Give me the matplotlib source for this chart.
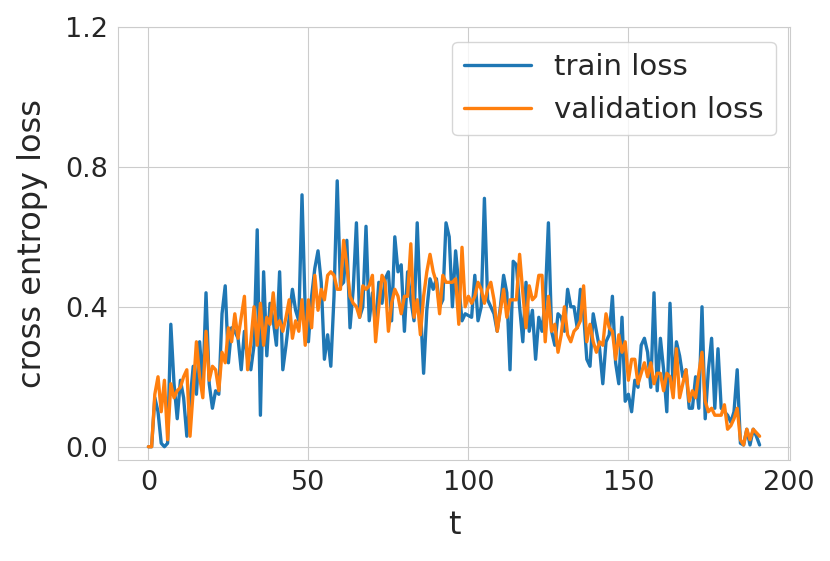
import numpy as np
import matplotlib
matplotlib.use('Agg')
import matplotlib.pyplot as plt
import seaborn as sns

# loss values, one per step t = 0..191
train_loss = [0, 0, 0.14, 0.10, 0.01, 0.0, 0.01, 0.35, 0.18, 0.08,
              0.19, 0.14, 0.03, 0.13, 0.23, 0.15, 0.30, 0.17, 0.44, 0.18,
              0.11, 0.16, 0.15, 0.38, 0.46,
              0.24, 0.34, 0.33, 0.31, 0.22, 0.33, 0.25, 0.22, 0.29, 0.62,
              0.09, 0.50, 0.26, 0.41, 0.36, 0.29, 0.50, 0.22, 0.29, 0.37,
              0.45, 0.39, 0.36, 0.72, 0.39, 0.30,
              0.43, 0.51, 0.56, 0.47, 0.25, 0.32, 0.23, 0.43, 0.76, 0.46,
              0.47, 0.59, 0.34, 0.45, 0.64, 0.37, 0.40, 0.63, 0.36, 0.44,
              0.34, 0.47, 0.41,
              0.48, 0.50, 0.36, 0.60, 0.50, 0.52, 0.33, 0.50, 0.42, 0.36,
              0.64, 0.40, 0.21, 0.39, 0.48, 0.45, 0.48, 0.40, 0.42, 0.64,
              0.60, 0.40, 0.56, 0.46, 0.36, 0.38, 0.375,
              0.37, 0.49, 0.36, 0.40, 0.71, 0.42, 0.40, 0.38, 0.33, 0.40,
              0.49, 0.44, 0.22, 0.53, 0.52, 0.40, 0.30, 0.47, 0.33, 0.39,
              0.25, 0.37, 0.33, 0.42, 0.64,
              0.33, 0.29, 0.38, 0.37, 0.33, 0.45, 0.40, 0.40, 0.34, 0.45,
              0.38, 0.25, 0.23, 0.38, 0.33, 0.28, 0.18, 0.30, 0.32, 0.43,
              0.24, 0.18, 0.37, 0.13, 0.15,
              0.10, 0.19, 0.17, 0.29, 0.31, 0.27, 0.17, 0.44, 0.16, 0.31,
              0.22, 0.10, 0.41, 0.16, 0.30, 0.26, 0.20, 0.22, 0.11, 0.11,
              0.20, 0.11, 0.40, 0.08, 0.22, 0.31,
              0.11, 0.28, 0.11, 0.10, 0.09, 0.07, 0.10, 0.22, 0.01, 0.005,
              0.05, 0.005, 0.05, 0.03, 0.005]

val_loss = [0, 0, 0.15, 0.20, 0.10, 0.19, 0.02, 0.18, 0.14, 0.16,
            0.17, 0.20, 0.22, 0.03, 0.16, 0.30, 0.20, 0.14, 0.33, 0.19,
            0.23, 0.22, 0.16, 0.27,
            0.24, 0.34, 0.30, 0.38, 0.31, 0.37, 0.43, 0.22, 0.30, 0.40,
            0.29, 0.41, 0.29, 0.37, 0.35, 0.44, 0.34, 0.36, 0.33, 0.37,
            0.42, 0.31, 0.36, 0.33, 0.42, 0.29, 0.42,
            0.34, 0.49, 0.39, 0.45, 0.42, 0.49, 0.50, 0.49, 0.45, 0.45,
            0.59, 0.52, 0.43, 0.41, 0.40, 0.37, 0.46, 0.45, 0.46, 0.49,
            0.30, 0.40, 0.49, 0.47, 0.33,
            0.41, 0.45, 0.43, 0.38, 0.43, 0.43, 0.58, 0.37, 0.42, 0.32,
            0.43, 0.50, 0.55, 0.50, 0.47, 0.38, 0.49, 0.47, 0.47, 0.47,
            0.48, 0.35, 0.57, 0.40, 0.43,
            0.41, 0.43, 0.47, 0.45, 0.41, 0.45, 0.47, 0.42, 0.33, 0.39,
            0.45, 0.37, 0.42, 0.42, 0.42, 0.55, 0.44, 0.34, 0.46, 0.42,
            0.43, 0.49, 0.49, 0.30, 0.43,
            0.33, 0.35, 0.27, 0.32, 0.40, 0.32, 0.30, 0.33, 0.34, 0.36,
            0.46, 0.30, 0.35, 0.30, 0.27, 0.30, 0.29, 0.38, 0.34, 0.33,
            0.25, 0.32, 0.27, 0.30, 0.19,
            0.25, 0.25, 0.18, 0.21, 0.24, 0.20, 0.24, 0.18, 0.21, 0.21,
            0.16, 0.21, 0.20, 0.14, 0.28, 0.14, 0.18, 0.22, 0.13, 0.16,
            0.14, 0.21, 0.27, 0.13, 0.10,
            0.11, 0.09, 0.09, 0.09, 0.12, 0.05, 0.06, 0.08, 0.11, 0.02,
            0.005, 0.05, 0.02, 0.05, 0.04, 0.03]

t = np.arange(len(train_loss))

sns.set_style('whitegrid')
plt.rcParams['font.family'] = ['DejaVu Sans']

fig = plt.figure(figsize=(8.3, 5.61), dpi=100)
ax = fig.add_axes([0.142, 0.18, 0.81, 0.772])
ax.plot(t, train_loss, color='#1f77b4', lw=2.4, label='train loss')
ax.plot(t, val_loss, color='#ff7f0e', lw=2.4, label='validation loss')

ax.set_ylim(-0.038, 1.2)
ax.set_yticks([0.0, 0.4, 0.8, 1.2])
ax.set_xticks([0, 50, 100, 150, 200])
ax.tick_params(labelsize=19.5, colors='.15')
ax.set_xlabel('t', fontsize=23, color='.15', labelpad=10)
ax.set_ylabel('cross entropy loss', fontsize=23, color='.15', labelpad=12)
ax.legend(loc='upper right', fontsize=21, handlelength=2.3)

plt.savefig('out.png', dpi=100)
